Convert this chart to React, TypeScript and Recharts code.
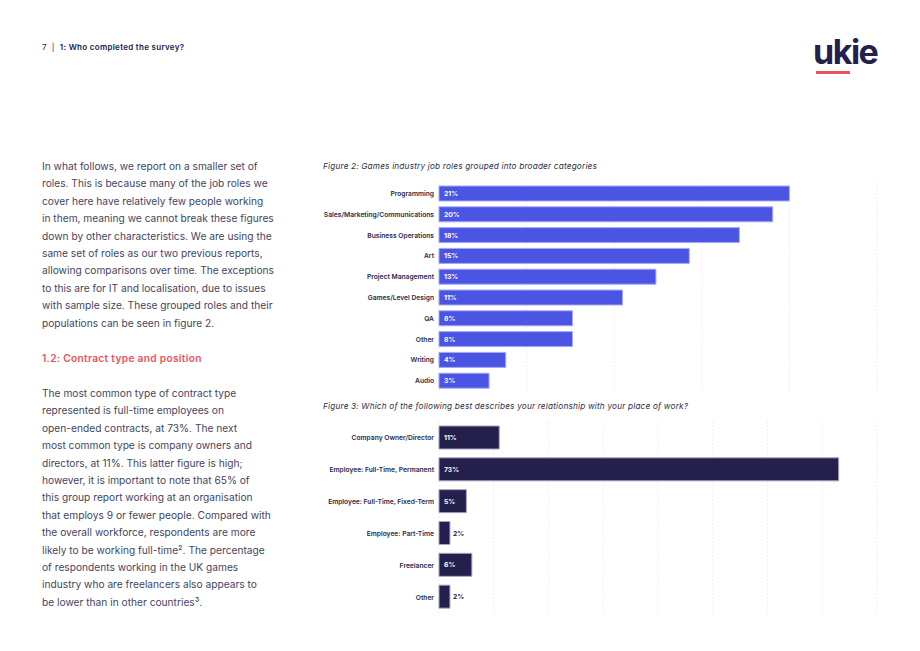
import { Bar, BarChart, CartesianGrid, LabelList, XAxis, YAxis } from "recharts";

const roleNames = [
  "Programming",
  "Sales/Marketing/Communications",
  "Business Operations",
  "Art",
  "Project Management",
  "Games/Level Design",
  "QA",
  "Other",
  "Writing",
  "Audio",
];
const roleShares = [21, 20, 18, 15, 13, 11, 8, 8, 4, 3];
const roleTicks = [0, 5.25, 10.5, 15.75, 21, 26.25];

const contractNames = [
  "Company Owner/Director",
  "Employee: Full-Time, Permanent",
  "Employee: Full-Time, Fixed-Term",
  "Employee: Part-Time",
  "Freelancer",
  "Other",
];
const contractShares = [11, 73, 5, 2, 6, 2];
const contractTicks = [0, 10, 20, 30, 40, 50, 60, 70, 80];

const introLines = [
  "In what follows, we report on a smaller set of",
  "roles. This is because many of the job roles we",
  "cover here have relatively few people working",
  "in them, meaning we cannot break these figures",
  "down by other characteristics. We are using the",
  "same set of roles as our two previous reports,",
  "allowing comparisons over time. The exceptions",
  "to this are for IT and localisation, due to issues",
  "with sample size. These grouped roles and their",
  "populations can be seen in figure 2.",
];

const contractLines = [
  "The most common type of contract type",
  "represented is full-time employees on",
  "open-ended contracts, at 73%. The next",
  "most common type is company owners and",
  "directors, at 11%. This latter figure is high;",
  "however, it is important to note that 65% of",
  "this group report working at an organisation",
  "that employs 9 or fewer people. Compared with",
  "the overall workforce, respondents are more",
  "likely to be working full-time². The percentage",
  "of respondents working in the UK games",
  "industry who are freelancers also appears to",
  "be lower than in other countries³.",
];

const roleData = roleNames.map((name, i) => ({ name, value: roleShares[i] }));
const contractData = contractNames.map((name, i) => ({ name, value: contractShares[i] }));

const NAVY = "#23204e";
const TEXT = "#44445f";
const RED = "#e9535d";
const FONT = "Inter, 'DejaVu Sans', sans-serif";

function makeLabel(outsideBelow: number) {
  return (props: any) => {
    const { x, y, width, height, value } = props;
    const outside = value < outsideBelow;
    return (
      <text
        x={outside ? x + width + 3 : x + 5}
        y={y + height / 2}
        dy={2.5}
        fill={outside ? NAVY : "#ffffff"}
        fontSize={6.8}
        fontWeight={700}
        fontFamily={FONT}
      >
        {`${value}%`}
      </text>
    );
  };
}

function CategoryTick(props: any) {
  const { x, y, payload } = props;
  return (
    <text x={x} y={y} dy={2.5} textAnchor="end" fontSize={6.7} fontWeight={600} fill="#2b2a48" fontFamily={FONT}>
      {payload.value}
    </text>
  );
}

function TextLines({ lines, top }: { lines: string[]; top: number }) {
  return (
    <div style={{ position: "absolute", left: 42, top, fontSize: 10.2, color: TEXT, lineHeight: "17.4px" }}>
      {lines.map((l) => (
        <div key={l} style={{ whiteSpace: "nowrap" }}>
          {l}
        </div>
      ))}
    </div>
  );
}

const caption: React.CSSProperties = {
  position: "absolute",
  left: 323,
  fontSize: 8.2,
  fontStyle: "italic",
  color: "#2e2e48",
  letterSpacing: 0.2,
  whiteSpace: "nowrap",
};

export default function App() {
  return (
    <div
      style={{
        position: "fixed",
        left: 0,
        top: 0,
        width: 920,
        height: 651,
        background: "#ffffff",
        fontFamily: FONT,
        overflow: "hidden",
      }}
    >
      <div
        style={{
          position: "absolute",
          left: 42,
          top: 42,
          fontSize: 8,
          color: NAVY,
          letterSpacing: 0.3,
          whiteSpace: "nowrap",
        }}
      >
        <span>7</span>
        <span style={{ margin: "0 5px" }}>|</span>
        <span style={{ fontWeight: 600 }}>1: Who completed the survey?</span>
      </div>

      <div
        style={{
          position: "absolute",
          left: 813,
          top: 32,
          fontSize: 34,
          fontWeight: 700,
          color: NAVY,
          letterSpacing: -1.5,
          lineHeight: "40px",
        }}
      >
        ukie
      </div>
      <div style={{ position: "absolute", left: 816, top: 71, width: 34, height: 3, background: RED }} />

      <TextLines lines={introLines} top={158} />
      <div
        style={{
          position: "absolute",
          left: 42,
          top: 352,
          fontSize: 10.2,
          fontWeight: 600,
          color: RED,
          letterSpacing: 0.3,
          whiteSpace: "nowrap",
        }}
      >
        1.2: Contract type and position
      </div>
      <TextLines lines={contractLines} top={385} />

      <div style={{ ...caption, top: 161 }}>Figure 2: Games industry job roles grouped into broader categories</div>
      <div style={{ position: "absolute", left: 300, top: 170 }}>
        <BarChart
          width={590}
          height={221}
          data={roleData}
          layout="vertical"
          margin={{ top: 13, right: 13, bottom: 0, left: 0 }}
        >
          <CartesianGrid horizontal={false} strokeDasharray="1.5 2" stroke="#ebebf0" />
          <XAxis type="number" domain={[0, 26.25]} ticks={roleTicks} hide />
          <YAxis
            type="category"
            dataKey="name"
            width={139}
            axisLine={false}
            tickLine={false}
            tickSize={3}
            tick={<CategoryTick />}
            interval={0}
          />
          <Bar dataKey="value" fill="#4a55e4" stroke="#a4a9f1" strokeWidth={1} barSize={15} isAnimationActive={false}>
            <LabelList dataKey="value" content={makeLabel(0)} />
          </Bar>
        </BarChart>
      </div>

      <div style={{ ...caption, top: 401 }}>
        Figure 3: Which of the following best describes your relationship with your place of work?
      </div>
      <div style={{ position: "absolute", left: 300, top: 415 }}>
        <BarChart
          width={590}
          height={198}
          data={contractData}
          layout="vertical"
          margin={{ top: 7, right: 13, bottom: 0, left: 0 }}
        >
          <CartesianGrid horizontal={false} strokeDasharray="1.5 2" stroke="#ebebf0" />
          <XAxis type="number" domain={[0, 80]} ticks={contractTicks} hide />
          <YAxis
            type="category"
            dataKey="name"
            width={139}
            axisLine={false}
            tickLine={false}
            tickSize={3}
            tick={<CategoryTick />}
            interval={0}
          />
          <Bar dataKey="value" fill={NAVY} stroke="#a6a3bb" strokeWidth={1} barSize={23} isAnimationActive={false}>
            <LabelList dataKey="value" content={makeLabel(3)} />
          </Bar>
        </BarChart>
      </div>
    </div>
  );
}
